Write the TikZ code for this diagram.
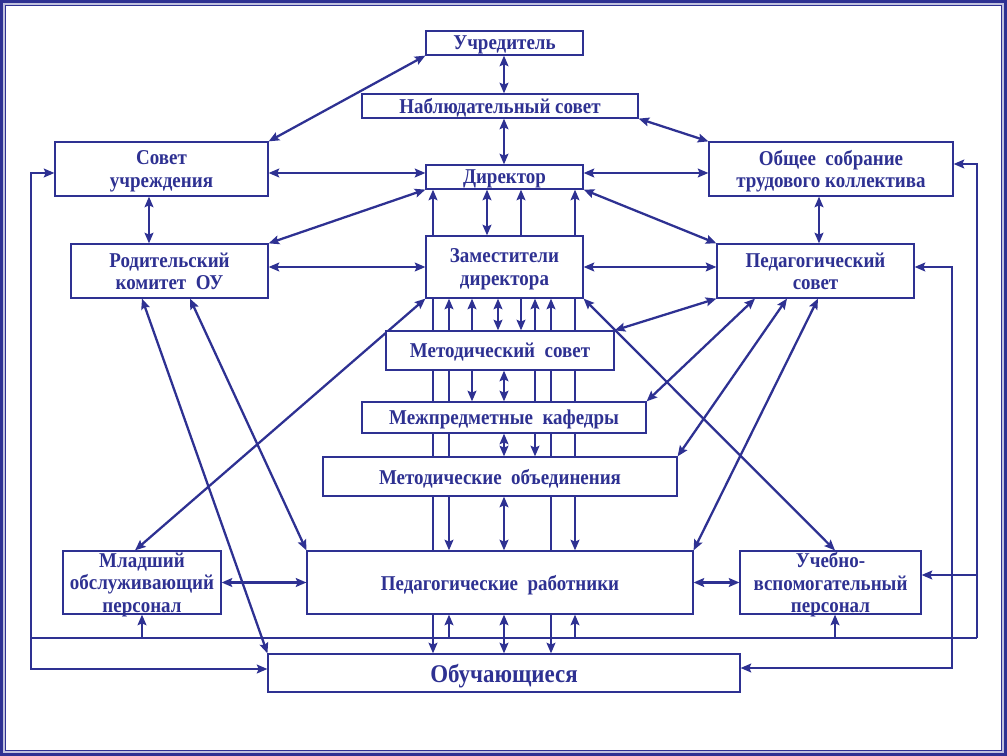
\documentclass[tikz,border=0pt]{standalone}
\usepackage{fontspec}
\setmainfont[FakeStretch=0.9]{Liberation Serif}
\usepackage{xcolor}
\usetikzlibrary{arrows.meta, backgrounds, positioning}
\definecolor{schblue}{RGB}{46,49,146}

\begin{document}
\begin{tikzpicture}[x=0.02cm, y=-0.02cm,
		>={Stealth[length=6pt, width=5pt, inset=1pt]},
		box/.style={draw=schblue, line width=0.7pt, fill=white, text=schblue, inner sep=0pt, text depth=0pt, align=center, font=\fontsize{12}{12.8}\selectfont\bfseries},
		link/.style={draw=schblue, line width=1.3pt}]
			\useasboundingbox (0,0) rectangle (1007,756);
			
			\draw[schblue, line width=1.8pt] (1.5,1.5) rectangle (1005.5,754.5);
			\draw[schblue!30, line width=0.9pt] (3.8,3.8) rectangle (1003.2,752.2);
			\draw[schblue, line width=0.6pt] (5.6,5.6) rectangle (1001.4,750.4);
			
			\foreach \x in {135,142,149,190,433,449,472,487,498,504,521,535,551,575,755,787,818,819,835}
				\coordinate (v\x) at (\x,0);
			\coordinate (h173) at (0,173);
			\coordinate (LT) at (31,173);
			\coordinate (LB) at (31,669);
			\coordinate (BUSL) at (31,638);
			\coordinate (BUSR) at (977,638);
			\coordinate (RT) at (977,164);
			\coordinate (RM) at (977,575);
			\coordinate (R2T) at (952,267);
			\coordinate (R2B) at (952,668);
			
			\draw
			(504.5,43) node[box, minimum width=3.14cm, minimum height=0.48cm] (UCHR) {Учредитель}
			(500,106) node[box, minimum width=5.52cm, minimum height=0.48cm] (NABL) {Наблюдательный совет}
			(504.5,177) node[box, minimum width=3.14cm, minimum height=0.48cm] (DIR) {Директор}
			(161.5,169) node[box, minimum width=4.26cm, minimum height=1.08cm] (SOVET) {Совет\\учреждения}
			(831,169) node[box, minimum width=4.88cm, minimum height=1.08cm] (OBSH) {Общее~ собрание\\трудового коллектива}
			
			(169.5,271) node[box, minimum width=3.94cm, minimum height=1.08cm] (RODIT) {Родительский\\комитет~ ОУ}
			(504.5,267) node[box, minimum width=3.14cm, minimum height=1.24cm] (ZAM) {Заместители\\директора}
			(815.5,271) node[box, minimum width=3.94cm, minimum height=1.08cm] (PEDSOV) {Педагогический\\совет}
			
			(500,350.5) node[box, minimum width=4.56cm, minimum height=0.78cm] (METSOV) {Методический~ совет}
			(504,417.5) node[box, minimum width=5.68cm, minimum height=0.62cm] (KAF) {Межпредметные~ кафедры}
			(500,476.5) node[box, minimum width=7.08cm, minimum height=0.78cm] (MO) {Методические~ объединения}
			
			(142,582.5) node[box, minimum width=3.16cm, minimum height=1.26cm] (MLAD) {Младший\\обслуживающий\\персонал}
			(500,582.5) node[box, minimum width=7.72cm, minimum height=1.26cm] (PEDRAB) {Педагогические~ работники}
			(830.5,582.5) node[box, minimum width=3.62cm, minimum height=1.26cm] (UCHEB) {Учебно-\\вспомогательный\\персонал}
			(504,673) node[box, minimum width=9.44cm, minimum height=0.76cm, font=\fontsize{14.5}{15}\selectfont\bfseries] (OBUCH) {Обучающиеся};
			
			\begin{scope}[on background layer]
				\draw[link,<->] (UCHR.south -| v504) -- (NABL.north -| v504);
				\draw[link,<->] (NABL.south -| v504) -- (DIR.north -| v504);
				\draw[link,<->] (UCHR.south west) -- (SOVET.north east);
				\draw[link,<->] (NABL.south east) -- (OBSH.north west);
				\draw[link,<->] (SOVET.east |- h173) -- (DIR.west |- h173);
				\draw[link,<->] (OBSH.west |- h173) -- (DIR.east |- h173);
				\draw[link,<->] (SOVET.south -| v149) -- (RODIT.north -| v149);
				\draw[link,<->] (OBSH.south -| v819) -- (PEDSOV.north -| v819);
				\draw[link,<->] (RODIT.north east) -- (DIR.south west);
				\draw[link,<->] (PEDSOV.north west) -- (DIR.south east);
				\draw[link,<->] (RODIT.east |- ZAM.west) -- (ZAM.west);
				\draw[link,<->] (PEDSOV.west |- ZAM.east) -- (ZAM.east);
				
				\draw[link,<->] (DIR.south -| v433) -- (OBUCH.north -| v433);
				\draw[link,<->] (DIR.south -| v487) -- (ZAM.north -| v487);
				\draw[link,->] (ZAM.north -| v521) -- (DIR.south -| v521);
				\draw[link,<->] (DIR.south -| v575) -- (PEDRAB.north -| v575);
				\draw[link,<->] (ZAM.south -| v449) -- (PEDRAB.north -| v449);
				\draw[link,->] (METSOV.north -| v472) -- (ZAM.south -| v472);
				\draw[link,<->] (ZAM.south -| v498) -- (METSOV.north -| v498);
				\draw[link,->] (ZAM.south -| v521) -- (METSOV.north -| v521);
				\draw[link,->] (METSOV.north -| v535) -- (ZAM.south -| v535);
				\draw[link,<->] (ZAM.south -| v551) -- (OBUCH.north -| v551);
				\draw[link,->] (METSOV.south -| v472) -- (KAF.north -| v472);
				\draw[link,<->] (METSOV.south -| v504) -- (KAF.north -| v504);
				\draw[link,->] (METSOV.south -| v535) -- (MO.north -| v535);
				\draw[link,<->] (KAF.south -| v504) -- (MO.north -| v504);
				\draw[link,<->] (MO.south -| v504) -- (PEDRAB.north -| v504);
				\draw[link,<->] (PEDRAB.south -| v504) -- (OBUCH.north -| v504);
				
				\draw[link,<->] (RODIT.south -| v142) -- (OBUCH.north west);
				\draw[link,<->] (RODIT.south -| v190) -- (PEDRAB.north west);
				\draw[link,<->] (ZAM.south west) -- (MLAD.north -| v135);
				\draw[link,<->] (ZAM.south east) -- (UCHEB.north -| v835);
				\draw[link,<->] (PEDSOV.south west) -- (METSOV.north east);
				\draw[link,<->] (PEDSOV.south -| v755) -- (KAF.north east);
				\draw[link,<->] (PEDSOV.south -| v787) -- (MO.north east);
				\draw[link,<->] (PEDSOV.south -| v818) -- (PEDRAB.north east);
				\draw[link,<->] (MLAD.east) -- (PEDRAB.west);
				\draw[link,<->] (PEDRAB.east) -- (UCHEB.west);
				
				\draw[link,<->] (SOVET.west |- LT) -- (LT) -- (LB) -- (OBUCH.west |- LB);
				\draw[link] (BUSL) -- (BUSR);
				\draw[link,->] (BUSR) -- (RT) -- (OBSH.east |- RT);
				\draw[link,->] (RM) -- (UCHEB.east |- RM);
				\draw[link,<->] (PEDSOV.east |- R2T) -- (R2T) -- (R2B) -- (OBUCH.east |- R2B);
				\draw[link,->] (MLAD.south |- BUSL) -- (MLAD.south);
				\draw[link,->] (BUSL -| v449) -- (PEDRAB.south -| v449);
				\draw[link,->] (BUSL -| v575) -- (PEDRAB.south -| v575);
				\draw[link,->] (BUSL -| v835) -- (UCHEB.south -| v835);
			\end{scope}
		\end{tikzpicture}
\end{document}
